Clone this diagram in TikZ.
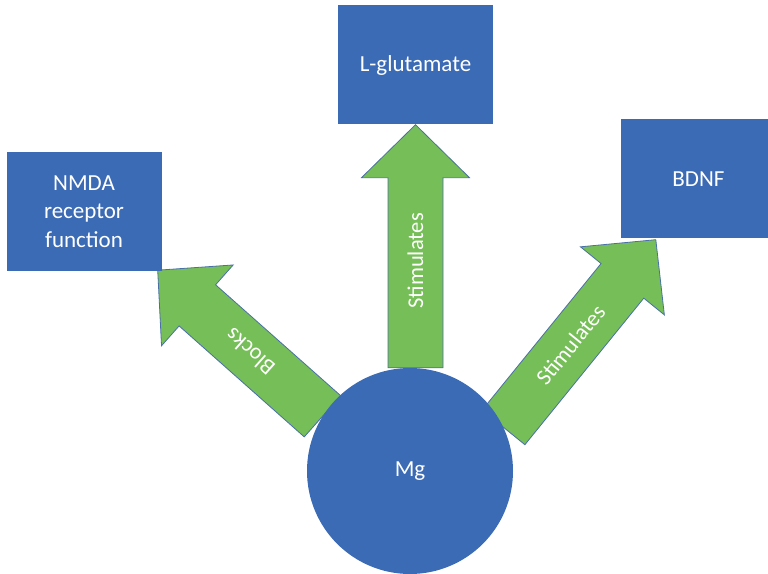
\documentclass[tikz,border=0pt]{standalone}
\usepackage{fontspec}
\setmainfont{Carlito}
\usetikzlibrary{calc,backgrounds}
\definecolor{boxblue}{HTML}{3B6BB5}
\definecolor{arrowgreen}{HTML}{76BE58}
\definecolor{edgeblue}{HTML}{4A70A8}
\tikzset{
  target/.style={rectangle, fill=boxblue, text=white, minimum width=155pt, minimum height=119pt,
    align=center, inner sep=0pt, font=\fontsize{23}{28.5}\selectfont},
  flow/.style={fill=arrowgreen, draw=edgeblue, line width=0.8pt, line join=miter},
  flowlabel/.style={text=white, inner sep=0pt, font=\fontsize{22.5}{26}\selectfont}
}
\begin{document}
\begin{tikzpicture}[x=1pt,y=1pt]
	\useasboundingbox (0,0) rectangle (768,573);
	\clip (0,0) rectangle (768,573);

	\node[target] (nmda) at (84,361.5) {NMDA\\receptor\\function};
	\node[target] (glut) at (415.5,508) {L-glutamate};
	\node[target] (bdnf) at (698.5,394) {BDNF};
	\node[circle, fill=boxblue, text=white, minimum size=206pt, inner sep=0pt,
		font=\fontsize{23}{28}\selectfont] (mg) at (410,102) {Mg};

	\coordinate (tipl) at ([xshift=-4pt,yshift=1pt]nmda.south east);
	\coordinate (tipm) at (glut.south);
	\coordinate (tailm) at (glut.south |- mg.north);
	\coordinate (tipr) at ([xshift=35pt,yshift=-1pt]bdnf.south west);

	% block arrows, behind the circle
	\begin{scope}[on background layer]
		\foreach \tail/\tip/\arrowtext in {mg.148/tipl/Blocks, tailm/tipm/Stimulates, mg.25/tipr/Stimulates}{
			\coordinate (head) at ($(\tip)!53pt!(\tail)$);
			\draw[flow] ($(\tail)!27.5pt!90:(\tip)$) -- ($(head)!27.5pt!90:(\tip)$) -- ($(head)!54pt!90:(\tip)$)
				-- (\tip) -- ($(head)!54pt!-90:(\tip)$) -- ($(head)!27.5pt!-90:(\tip)$)
				-- ($(\tail)!27.5pt!-90:(\tip)$) -- cycle;
			\path (\tail) -- (\tip) node[flowlabel, pos=0.44, sloped, allow upside down] {\arrowtext};
		}
	\end{scope}
\end{tikzpicture}
\end{document}
